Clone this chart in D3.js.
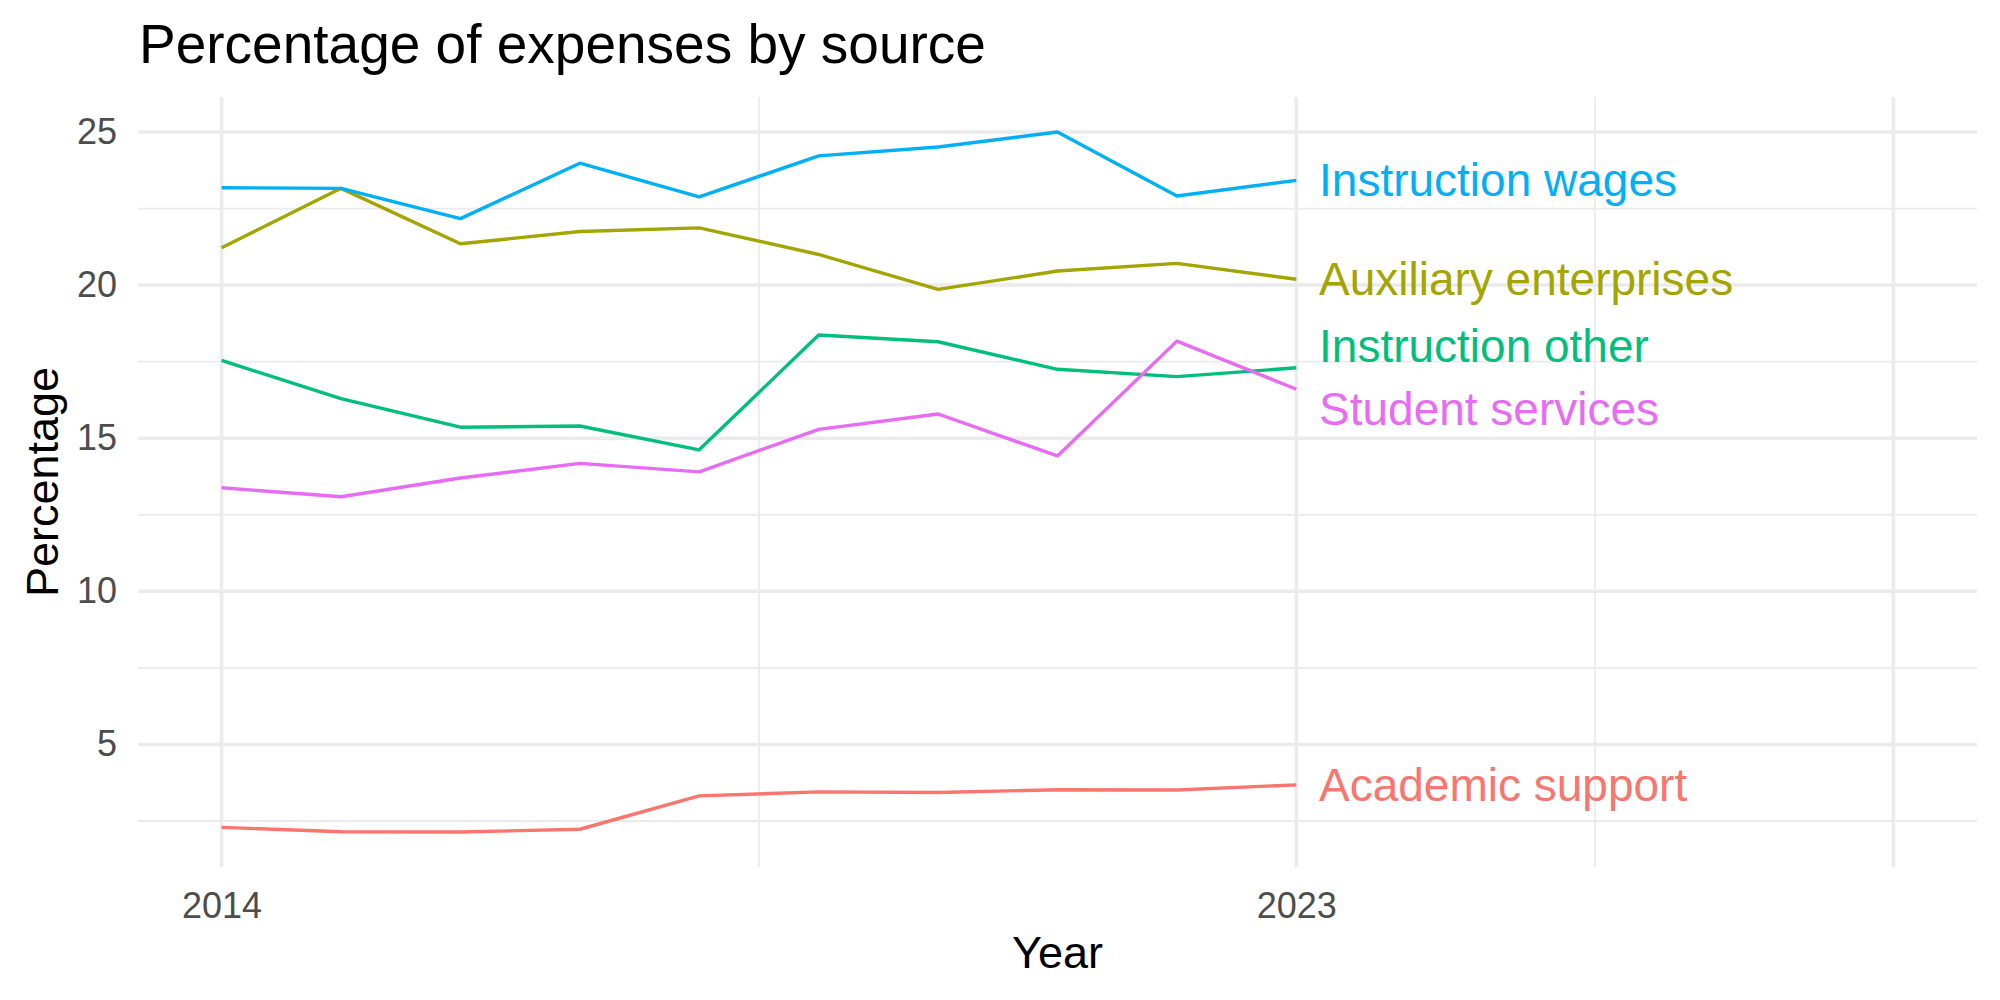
<!DOCTYPE html>
<html>
<head>
<meta charset="utf-8">
<script src="https://cdn.jsdelivr.net/npm/d3@7"></script>
<style>
  body { margin: 0; background: #fff; }
  svg text { font-family: "Liberation Sans", Arial, Helvetica, sans-serif; }
</style>
</head>
<body>
<div id="chart-area"></div>
<script>
// Data ---------------------------------------------------
const years = [2014, 2015, 2016, 2017, 2018, 2019, 2020, 2021, 2022, 2023]
const seriesNames = ["Academic support", "Auxiliary enterprises", "Instruction other", "Instruction wages", "Student services"]
const academicSupport = [2.29, 2.15, 2.14, 2.23, 3.32, 3.45, 3.43, 3.52, 3.51, 3.68]
const auxiliaryEnterprises = [21.22, 23.16, 21.35, 21.75, 21.87, 21.0, 19.86, 20.46, 20.71, 20.19]
const instructionOther = [17.54, 16.29, 15.36, 15.40, 14.62, 18.37, 18.15, 17.25, 17.01, 17.30]
const instructionWages = [23.18, 23.16, 22.17, 23.98, 22.88, 24.22, 24.51, 25.0, 22.91, 23.42]
const studentServices = [13.38, 13.09, 13.70, 14.18, 13.90, 15.29, 15.79, 14.42, 18.17, 16.60]
// label positions (repelled a bit so they don't overlap)
const labelY = [3.68, 20.19, 18.0, 23.42, 15.95]

// axis breaks
const xLabelTicks = [2014, 2023]
const xMajor = [2014, 2023, 2028]
const xMinor = [2018.5, 2025.5]
const xLimits = [2014, 2028]
const yMajor = [5, 10, 15, 20, 25]
const yMinor = [2.5, 7.5, 12.5, 17.5, 22.5]

const colors = ["#F8766D", "#A3A500", "#00BF7D", "#00B0F6", "#E76BF3"]

const allValues = [academicSupport, auxiliaryEnterprises, instructionOther, instructionWages, studentServices]
const series = seriesNames.map((name, i) => ({
    name: name,
    color: colors[i],
    labelY: labelY[i],
    values: years.map((y, j) => ({ year: y, value: allValues[i][j] }))
}))

// Canvas setup -----------------------------------------
const WIDTH = 2000, HEIGHT = 1000
const PANEL = {LEFT: 138, RIGHT: 1977, TOP: 97, BOTTOM: 867}

const svg = d3.select("#chart-area").append("svg")
    .attr("width", WIDTH)
    .attr("height", HEIGHT)

// Scales (ggplot style 5% expansion) ----------------------
const expand = (lo, hi) => [lo - (hi - lo) * 0.05, hi + (hi - lo) * 0.05]
const yExtent = d3.extent(allValues.flat())

const xScale = d3.scaleLinear()
    .domain(expand(xLimits[0], xLimits[1]))
    .range([PANEL.LEFT, PANEL.RIGHT])

const yScale = d3.scaleLinear()
    .domain(expand(yExtent[0], yExtent[1]))
    .range([PANEL.BOTTOM, PANEL.TOP])

// Grid ------------------------------------------------------
const grid = svg.append("g").attr("class", "grid")

grid.selectAll(".y-minor").data(yMinor).enter().append("line")
    .attr("x1", PANEL.LEFT).attr("x2", PANEL.RIGHT)
    .attr("y1", d => yScale(d)).attr("y2", d => yScale(d))
    .attr("stroke", "#EBEBEB").attr("stroke-width", 1.8)

grid.selectAll(".x-minor").data(xMinor).enter().append("line")
    .attr("y1", PANEL.TOP).attr("y2", PANEL.BOTTOM)
    .attr("x1", d => xScale(d)).attr("x2", d => xScale(d))
    .attr("stroke", "#EBEBEB").attr("stroke-width", 1.8)

grid.selectAll(".y-major").data(yMajor).enter().append("line")
    .attr("x1", PANEL.LEFT).attr("x2", PANEL.RIGHT)
    .attr("y1", d => yScale(d)).attr("y2", d => yScale(d))
    .attr("stroke", "#EBEBEB").attr("stroke-width", 3.5)

grid.selectAll(".x-major").data(xMajor).enter().append("line")
    .attr("y1", PANEL.TOP).attr("y2", PANEL.BOTTOM)
    .attr("x1", d => xScale(d)).attr("x2", d => xScale(d))
    .attr("stroke", "#EBEBEB").attr("stroke-width", 3.5)

// Axes ------------------------------------------------------
const xAxis = d3.axisBottom(xScale)
    .tickValues(xLabelTicks)
    .tickFormat(d3.format("d"))
    .tickSize(0)
    .tickPadding(25)

const yAxis = d3.axisLeft(yScale)
    .tickValues(yMajor)
    .tickSize(0)
    .tickPadding(21)

const gx = svg.append("g")
    .attr("transform", `translate(0,${PANEL.BOTTOM})`)
    .call(xAxis)
const gy = svg.append("g")
    .attr("transform", `translate(${PANEL.LEFT},0)`)
    .call(yAxis)

for (const g of [gx, gy]) {
    g.select(".domain").remove()
    g.selectAll("text")
        .attr("fill", "#4D4D4D")
        .style("font-size", "36px")
        .style("font-family", "'Liberation Sans', Arial, sans-serif")
}

// Lines -------------------------------------------------
const line = d3.line()
    .x(d => xScale(d.year))
    .y(d => yScale(d.value))

svg.append("g").selectAll("path").data(series).enter().append("path")
    .attr("d", d => line(d.values))
    .attr("fill", "none")
    .attr("stroke", d => d.color)
    .attr("stroke-width", 3.4)
    .attr("stroke-linejoin", "round")

// Direct labels
const lastYear = years[years.length - 1]
svg.append("g").selectAll("text").data(series).enter().append("text")
    .attr("x", xScale(lastYear + 0.19))
    .attr("y", d => yScale(d.labelY))
    .attr("dy", "0.35em")
    .attr("fill", d => d.color)
    .style("font-size", "46px")
    .text(d => d.name)

// Titles -------------------------------------------------
svg.append("text")
    .attr("x", 139)
    .attr("y", 63)
    .style("font-size", "55px")
    .attr("fill", "#000")
    .text("Percentage of expenses by source")

svg.append("text")
    .attr("x", (PANEL.LEFT + PANEL.RIGHT) / 2)
    .attr("y", 968)
    .attr("text-anchor", "middle")
    .style("font-size", "45px")
    .attr("fill", "#000")
    .text("Year")

svg.append("text")
    .attr("transform", `translate(58,${(PANEL.TOP + PANEL.BOTTOM) / 2}) rotate(-90)`)
    .attr("text-anchor", "middle")
    .style("font-size", "45px")
    .attr("fill", "#000")
    .text("Percentage")
</script>
</body>
</html>
